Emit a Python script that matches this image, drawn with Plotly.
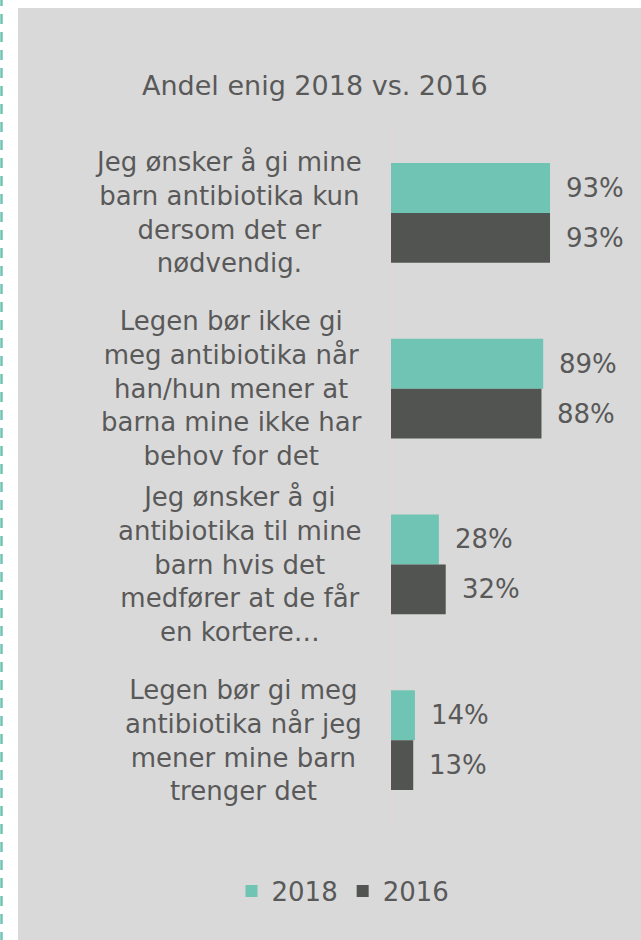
import plotly.graph_objects as go

categories = [
    "Jeg ønsker å gi mine<br>barn antibiotika kun<br>dersom det er<br>nødvendig.",
    "Legen bør ikke gi<br>meg antibiotika når<br>han/hun mener at<br>barna mine ikke har<br>behov for det",
    "Jeg ønsker å gi<br>antibiotika til mine<br>barn hvis det<br>medfører at de får<br>en kortere…",
    "Legen bør gi meg<br>antibiotika når jeg<br>mener mine barn<br>trenger det",
]
cat_ids = ["c1", "c2", "c3", "c4"]
values_2018 = [93, 89, 28, 14]
values_2016 = [93, 88, 32, 13]
series_names = ["2018", "2016"]
title_text = "Andel enig 2018 vs. 2016"

TEAL = "#70c4b4"
DARK = "#525451"
TXT = "#595959"
FONT = "DejaVu Sans"

W, H = 641, 940
L, R, T, B = 391, 21, 125, 112
pw, ph = W - L - R, H - T - B

def px_x(p):
    return (p - L) / pw

def px_y(p):
    return (H - B - p) / ph

fig = go.Figure()
for name, vals, col in [(series_names[0], values_2018, TEAL), (series_names[1], values_2016, DARK)]:
    fig.add_trace(go.Bar(
        y=cat_ids, x=vals, orientation="h", name=name,
        marker=dict(color=col, line=dict(width=0)),
        hoverinfo="skip",
    ))

annotations = []
# category labels
for cid, lab in zip(cat_ids, categories):
    annotations.append(dict(
        x=px_x(364), xref="paper", y=cid, yref="y",
        xanchor="right", yanchor="middle", align="center",
        text=lab, showarrow=False,
        font=dict(family=FONT, size=26, color=TXT),
    ))
# value labels
for vals, shift in [(values_2018, 25), (values_2016, -25)]:
    for cid, v in zip(cat_ids, vals):
        annotations.append(dict(
            x=v, xref="x", y=cid, yref="y",
            xanchor="left", yanchor="middle", xshift=14, yshift=shift,
            text=f"{v}%", showarrow=False,
            font=dict(family=FONT, size=26, color=TXT),
        ))
# title
annotations.append(dict(
    x=px_x(315), xref="paper", y=px_y(86), yref="paper",
    xanchor="center", yanchor="middle", text=title_text, showarrow=False,
    font=dict(family=FONT, size=27, color=TXT),
))

shapes = [
    dict(type="rect", xref="paper", yref="paper",
         x0=px_x(18), x1=px_x(W + 2), y0=px_y(8), y1=px_y(H + 2),
         fillcolor="#d9d9d9", line=dict(width=0), layer="below"),
    dict(type="line", xref="paper", yref="paper",
         x0=px_x(1.5), x1=px_x(1.5), y0=px_y(-4), y1=px_y(H + 2),
         line=dict(color=TEAL, width=2.5, dash="10px,8px"), layer="below"),
]

fig.update_layout(
    width=W, height=H,
    margin=dict(l=L, r=R, t=T, b=B, autoexpand=False),
    paper_bgcolor="white", plot_bgcolor="rgba(0,0,0,0)",
    barmode="group", bargap=0.432, bargroupgap=0,
    xaxis=dict(range=[0, pw / 1.71], visible=False, fixedrange=True),
    yaxis=dict(autorange="reversed", showticklabels=False, showgrid=False,
               zeroline=False, showline=True, linecolor="#e4d4da", linewidth=1,
               ticks="", fixedrange=True),
    showlegend=True,
    legend=dict(orientation="h", x=px_x(343), xanchor="center",
                y=px_y(891), yanchor="middle",
                font=dict(family=FONT, size=26, color=TXT),
                bgcolor="rgba(0,0,0,0)", itemclick=False, itemdoubleclick=False,
                traceorder="normal"),
    annotations=annotations, shapes=shapes,
)

fig.write_html("out.html", config={"displayModeBar": False},
               post_script="document.body.style.margin='0';document.body.style.overflow='hidden';")
